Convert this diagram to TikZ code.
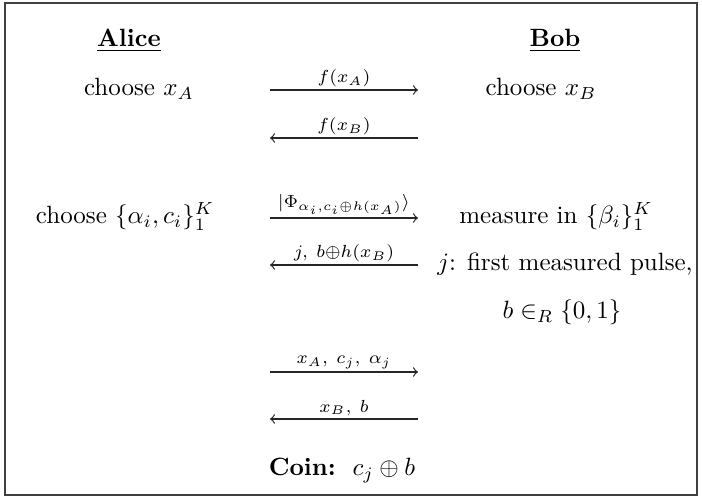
\documentclass[tikz,border=0pt]{standalone}
\usepackage{amsmath}
\begin{document}
\begin{tikzpicture}[x=0.4pt,y=-0.4pt,
  txt/.style={anchor=base,inner sep=0pt},
  msg/.style={->,line width=0.5pt,draw=black!85},
  lbl/.style={above,inner sep=1pt},
  frame/.style={draw=black!75,line width=0.6pt}]
\useasboundingbox (0,0) rectangle (702,499);
\draw[frame] (5,3) rectangle (697,495);
% headings
\node[txt] (alice) at (129,47) {\underline{\textbf{Alice}}};
\node[txt] (bob) at (555,47) {\underline{\textbf{Bob}}};
% row 1
\node[txt] (ca) at (139,96) {choose $x_A$};
\node[txt] (cb) at (541,96) {choose $x_B$};
\coordinate (a1l) at (270,90);
\coordinate (a1r) at (418,90);
\draw[msg] (a1l) -- node[lbl] {$\scriptstyle f(x_A)$} (a1r);
% row 2
\coordinate (a2l) at (270,138);
\coordinate (a2r) at (418,138);
\draw[msg] (a2r) -- node[lbl] {$\scriptstyle f(x_B)$} (a2l);
% row 3
\node[txt] (calpha) at (125,224) {choose $\{\alpha_i,c_i\}_1^K$};
\node[txt] (mb) at (556,224) {measure in $\{\beta_i\}_1^K$};
\coordinate (a3l) at (270,218);
\coordinate (a3r) at (418,218);
\draw[msg] (a3l) -- node[lbl] {$\scriptstyle |\Phi_{\alpha_i,c_i\oplus h(x_A)}\rangle$} (a3r);
% row 4
\node[txt] (fj) at (565,271) {$j$: first measured pulse,};
\coordinate (a4l) at (270,265);
\coordinate (a4r) at (418,265);
\draw[msg] (a4r) -- node[lbl] {$\scriptstyle j,\ b\oplus h(x_B)$} (a4l);
% row 5
\node[txt] (br) at (562,319) {$b\in_R\{0,1\}$};
% row 6
\coordinate (a5l) at (270,372);
\coordinate (a5r) at (418,372);
\draw[msg] (a5l) -- node[lbl] {$\scriptstyle x_A,\ c_j,\ \alpha_j$} (a5r);
% row 7
\coordinate (a6l) at (270,419);
\coordinate (a6r) at (418,419);
\draw[msg] (a6r) -- node[lbl] {$\scriptstyle x_B,\ b$} (a6l);
% coin
\node[txt] (coin) at (342,476) {\textbf{Coin:}\ \ $c_j\oplus b$};
\end{tikzpicture}
\end{document}
